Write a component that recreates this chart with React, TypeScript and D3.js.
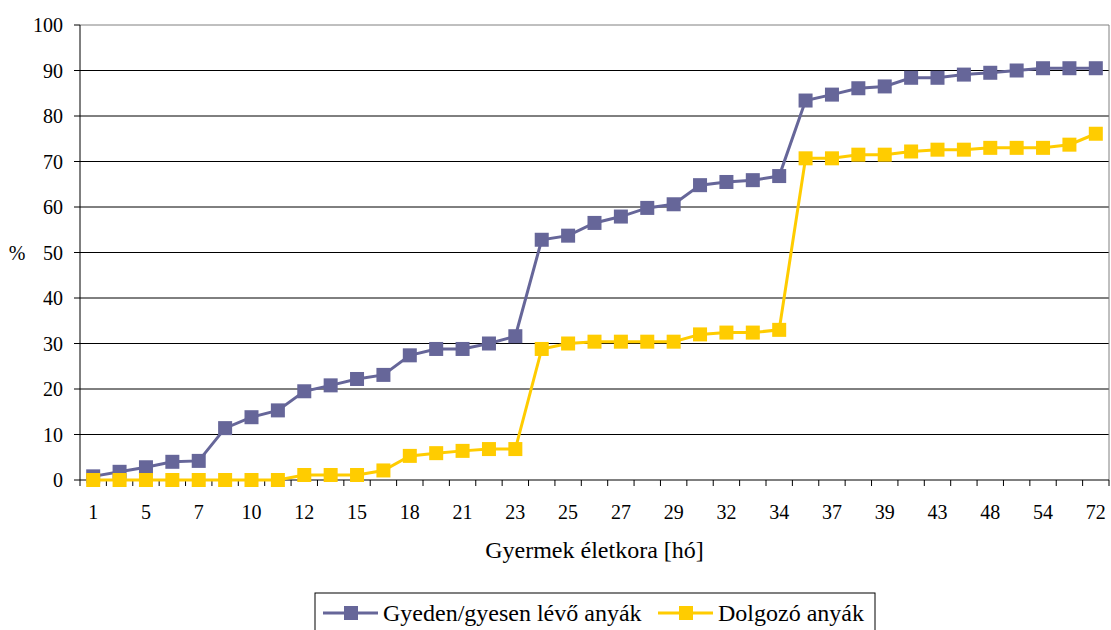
import React from 'react';
import * as d3 from 'd3';

const categories = ['1','3','5','6','7','9','10','11','12','14','15','16','18','20','21','22','23','24','25','26','27','28','29','30','32','33','34','36','37','38','39','42','43','45','48','51','54','60','72'];
const gyedValues = [0.8,1.8,2.8,4.0,4.2,11.4,13.8,15.3,19.5,20.8,22.2,23.1,27.4,28.8,28.8,30.0,31.6,52.8,53.7,56.5,57.9,59.8,60.6,64.8,65.5,65.9,66.8,83.4,84.7,86.1,86.5,88.4,88.4,89.1,89.5,90.0,90.5,90.5,90.5];
const dolgozoValues = [0,0,0,0,0,0,0,0,1.1,1.1,1.1,2.1,5.3,5.9,6.4,6.8,6.8,28.8,30.0,30.4,30.4,30.4,30.4,32.0,32.4,32.4,33.0,70.7,70.7,71.5,71.5,72.2,72.6,72.6,73.0,73.0,73.0,73.7,76.1];
const yTicks = [0,10,20,30,40,50,60,70,80,90,100];
const seriesNames = ['Gyeden/gyesen lévő anyák','Dolgozó anyák'];
const colors = ['#666699','#FFCC00'];
const xTitle = 'Gyermek életkora [hó]';
const yTitle = '%';

export default function App() {
  const W = 1111, H = 630;
  const L = 80, R = 1109, T = 25, B = 480;
  const font = '"Liberation Serif", "Times New Roman", serif';
  const fs = 20;
  const x = d3.scaleBand<string>().domain(categories).range([L, R]).padding(0);
  const y = d3.scaleLinear().domain([0, 100]).range([B, T]);
  const cx = (i: number) => (x(categories[i]) as number) + x.bandwidth() / 2;
  const line = d3.line<number>().x((_, i) => cx(i)).y(d => y(d));
  const series = [gyedValues, dolgozoValues];
  const ms = 14;
  const legendX = 315, legendY = 593, legendW = 560;
  const ly = 613;
  const ts = { fontFamily: font };
  return (
    <svg width={W} height={H} style={{ position: 'absolute', left: 0, top: 0, display: 'block', background: '#fff' }}>
      <rect x={0} y={0} width={W} height={H} fill="#fff" />
      {yTicks.filter(t => t > 0 && t < 100).map(t => (
        <line key={'g' + t} x1={L} x2={R} y1={y(t)} y2={y(t)} stroke="#000" strokeWidth={1} />
      ))}
      <line x1={L} x2={R} y1={y(100)} y2={y(100)} stroke="#808080" strokeWidth={1} />
      <line x1={R} x2={R} y1={T} y2={B} stroke="#808080" strokeWidth={1} />
      <line x1={L} x2={L} y1={T} y2={B} stroke="#000" strokeWidth={1} />
      <line x1={L} x2={R} y1={B} y2={B} stroke="#000" strokeWidth={1} />
      {yTicks.map(t => (
        <g key={'yt' + t}>
          <line x1={L - 6} x2={L} y1={y(t)} y2={y(t)} stroke="#000" />
          <text x={L - 17} y={y(t)} dy="0.35em" textAnchor="end" fontSize={fs} style={ts}>{t}</text>
        </g>
      ))}
      {categories.map((c, i) => (
        <line key={'xt' + i} x1={x(c) as number} x2={x(c) as number} y1={B} y2={B + 6} stroke="#000" />
      ))}
      <line x1={R} x2={R} y1={B} y2={B + 6} stroke="#000" />
      {categories.map((c, i) => i % 2 === 0 ? (
        <text key={'xl' + i} x={cx(i)} y={519} textAnchor="middle" fontSize={fs} style={ts}>{c}</text>
      ) : null)}
      <text x={(L + R) / 2} y={558} textAnchor="middle" fontSize={24} style={ts}>{xTitle}</text>
      <text x={17} y={y(50)} dy="0.35em" textAnchor="middle" fontSize={fs} style={ts}>{yTitle}</text>
      {series.map((s, k) => (
        <g key={'s' + k}>
          <path d={line(s) as string} fill="none" stroke={colors[k]} strokeWidth={3} />
          {s.map((v, i) => (
            <rect key={i} x={cx(i) - ms / 2} y={y(v) - ms / 2} width={ms} height={ms} fill={colors[k]} />
          ))}
        </g>
      ))}
      <rect x={legendX} y={legendY} width={legendW} height={45} fill="#fff" stroke="#000" strokeWidth={1} />
      {seriesNames.map((n, k) => {
        const ox = k === 0 ? 323 : 658;
        return (
          <g key={'lg' + k}>
            <line x1={ox} x2={ox + 55} y1={ly} y2={ly} stroke={colors[k]} strokeWidth={3} />
            <rect x={ox + 28 - ms / 2} y={ly - ms / 2} width={ms} height={ms} fill={colors[k]} />
            <text x={ox + 60} y={ly} dy="0.35em" fontSize={24} style={ts}>{n}</text>
          </g>
        );
      })}
    </svg>
  );
}
